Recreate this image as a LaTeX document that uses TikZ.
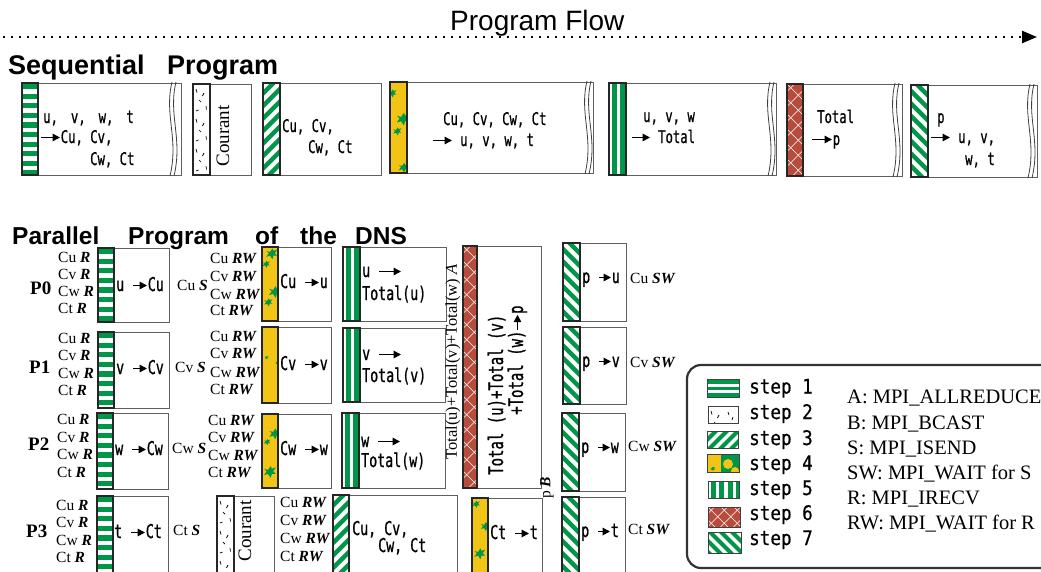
\documentclass[tikz,border=0pt]{standalone}
\usepackage{fontspec}
\setmainfont{Liberation Serif}
\setsansfont{Liberation Sans}
\newfontfamily\gfont[FakeStretch=0.70,FakeBold=0.8]{DejaVu Sans Mono}
\newfontfamily\lfont[FakeStretch=0.88,FakeBold=0.6]{DejaVu Sans Mono}
\usetikzlibrary{arrows.meta}
\definecolor{sgreen}{RGB}{0,150,72}
\definecolor{syellow}{RGB}{241,196,22}
\definecolor{sred}{RGB}{184,76,60}
\definecolor{frame}{RGB}{95,95,95}
\tikzset{
 boxf/.style={draw=frame,line width=1pt},
 stripb/.style={draw=black!85,line width=1.4pt},
 swb/.style={draw=black!75,line width=1pt},
 seqt/.style={font=\gfont\fontsize{17.5}{19}\selectfont,inner sep=0pt,anchor=base west},
 part/.style={font=\gfont\fontsize{19}{21}\selectfont,inner sep=0pt,anchor=base west},
 slab/.style={font=\fontsize{15.5}{17}\selectfont,inner sep=0pt,anchor=base west},
 plab/.style={font=\bfseries\fontsize{19}{21}\selectfont,inner sep=0pt,anchor=base west},
 ttl/.style={font=\sffamily\bfseries\fontsize{27}{29}\selectfont,inner sep=0pt,anchor=base west},
 ttlb/.style={font=\sffamily\bfseries\fontsize{24.5}{26}\selectfont,inner sep=0pt,anchor=base west},
 legt/.style={font=\lfont\fontsize{20}{22}\selectfont,inner sep=0pt,anchor=base west},
 legr/.style={font=\fontsize{20.5}{22}\selectfont,inner sep=0pt,anchor=base west},
 wavel/.style={draw=black!75,line width=0.8pt},
 flow/.style={line width=2.2pt,dash pattern=on 2.2pt off 5.8pt,-{Triangle[length=15pt,width=12pt]}}
}
\newcommand\bi[1]{\textbf{\textit{#1}}}
\newcommand\arr[1]{\tikz[baseline=-5.5pt]\draw[line width=1.6pt,-{Triangle[length=7.5pt,width=7.5pt]}] (0pt,0pt)--(#1pt,0pt);}
% step 1: horizontal stripes
\newcommand\sone[6]{%
 \begin{scope}\clip (#1,#2) rectangle (#3,#4);
 \fill[white] (#1,#2) rectangle (#3,#4);
 \foreach \k in {0,...,40}{\fill[sgreen] (#1,{#2+1+\k*#5}) rectangle (#3,{#2+1+(\k+0.55)*#5});}
 \end{scope}\draw[#6] (#1,#2) rectangle (#3,#4);}
% step 2: dashes
\newcommand\stwo[5]{%
 \begin{scope}\clip (#1,#2) rectangle (#3,#4);
 \fill[white] (#1,#2) rectangle (#3,#4);
 \foreach \k in {0,...,4}{
  \draw[black,line width=0.7pt] ({#1+3},{#2+5+\k*30}) -- ++(1,3.5);
  \draw[black,line width=0.7pt] ({#1+11},{#2+9+\k*30}) -- ++(-1.5,3);
  \draw[black,line width=0.7pt] ({#1+6},{#2+16+\k*30}) -- ++(2,2);
  \draw[black,line width=0.7pt] ({#1+13},{#2+22+\k*30}) -- ++(0.5,3.5);
  \draw[black,line width=0.7pt] ({#1+3},{#2+27+\k*30}) -- ++(2.5,-1);
  \draw[black,line width=0.7pt] ({#1+20},{#2+6+\k*30}) -- ++(1,3);
  \draw[black,line width=0.7pt] ({#1+25},{#2+11+\k*30}) -- ++(-1,3);}
 \end{scope}\draw[#5] (#1,#2) rectangle (#3,#4);}
% step 3: "/" stripes
\newcommand\sthree[7]{%
 \begin{scope}\clip (#1,#2) rectangle (#3,#4);
 \fill[white] (#1,#2) rectangle (#3,#4);
 \foreach \k in {0,...,45}{\draw[sgreen,line width=#6pt] ({#1-2},{#2+\k*#5}) -- ++({#3-#1+4},{-(#3-#1+4)});}
 \end{scope}\draw[#7] (#1,#2) rectangle (#3,#4);}
% step 7: "\" stripes
\newcommand\sseven[7]{%
 \begin{scope}\clip (#1,#2) rectangle (#3,#4);
 \fill[white] (#1,#2) rectangle (#3,#4);
 \foreach \k in {0,...,45}{\draw[sgreen,line width=#6pt] ({#1-2},{#2+\k*#5-(#3-#1)-4}) -- ++({#3-#1+4},{#3-#1+4});}
 \end{scope}\draw[#7] (#1,#2) rectangle (#3,#4);}
% step 5: vertical stripes
\newcommand\sfive[6]{%
 \begin{scope}\clip (#1,#2) rectangle (#3,#4);
 \fill[white] (#1,#2) rectangle (#3,#4);
 \foreach \k in {0,...,5}{\fill[sgreen] ({#1+2.8+\k*#5},#2) rectangle ({#1+2.8+(\k+0.56)*#5},#4);}
 \end{scope}\draw[#6] (#1,#2) rectangle (#3,#4);}
% step 6: red with white lattice
\newcommand\ssix[6]{%
 \begin{scope}\clip (#1,#2) rectangle (#3,#4);
 \fill[sred] (#1,#2) rectangle (#3,#4);
 \foreach \k in {-4,...,30}{\draw[white,line width=0.55pt] (#1,{#2+\k*#5}) -- ++(40,40);
   \draw[white,line width=0.55pt] (#1,{#2+\k*#5+#5/2}) -- ++(40,-40);}
 \end{scope}\draw[#6] (#1,#2) rectangle (#3,#4);}
% step 4: yellow with leaves
\newcommand\sfour[6]{%
 \begin{scope}\clip (#1,#2) rectangle (#3,#4);
 \fill[syellow] (#1,#2) rectangle (#3,#4);
 #5
 \end{scope}\draw[#6] (#1,#2) rectangle (#3,#4);}
\newcommand\leaf[3]{\fill[sgreen,shift={(#1,#2)},scale=#3] (0,0) -- (2,-3) -- (3,-1) -- (6,-2) -- (4,1) -- (6,3) -- (3,3) -- (2,6) -- (0,3) -- (-3,4) -- (-1,1) -- (-3,-1) -- cycle;}
% wavy break
\newcommand\wave[3]{%
 \draw[wavel] ({#1+2},{#2-1}) .. controls ({#1-6},{#2+0.35*(#3-#2)}) and ({#1+9},{#2+0.6*(#3-#2)}) .. (#1,{#3+1});
 \draw[wavel] ({#1+6},{#2-1}) .. controls ({#1-2},{#2+0.35*(#3-#2)}) and ({#1+13},{#2+0.6*(#3-#2)}) .. ({#1+4},{#3+1});}
% label stacks
\newcommand\lstack[7]{%
 \node[slab] (#7a) at (#1,#3) {Cu \bi{#2}};
 \node[slab] (#7b) at (#1,#4) {Cv \bi{#2}};
 \node[slab] (#7c) at (#1,#5) {Cw \bi{#2}};
 \node[slab] (#7d) at (#1,#6) {Ct \bi{#2}};}

\begin{document}
\begin{tikzpicture}[x=1pt,y=-1pt]
\useasboundingbox (0,0) rectangle (1041,571);
\clip (0,0) rectangle (1041,571);
\fill[white] (0,0) rectangle (1041,571);

% program flow
\node[font=\sffamily\fontsize{28}{30}\selectfont,inner sep=0pt,anchor=base west] (pf) at (450,30) {Program Flow};
\coordinate (flowA) at (3,37);
\coordinate (flowB) at (1037,37);
\draw[flow] (flowA) -- (flowB);

% titles
\node[ttl] (t1) at (8,74) {Sequential};
\node[ttl] (t2) at (167,74) {Program};

% ---------- sequential boxes ----------
\draw[boxf] (22,83) rectangle (181,175);
\sone{22}{83}{38}{175}{9.6}{stripb}
\wave{170}{83}{175}
\node[seqt] (q1a) at (43,123) {u,\hspace{13pt}v,\hspace{13pt}w,\hspace{13pt}t};
\node[seqt] (q1b) at (40,143) {\arr{19}Cu, Cv,};
\node[seqt] (q1c) at (90,165) {Cw, Ct};

\draw[boxf] (193,84) rectangle (251,175);
\stwo{193}{84}{210}{175}{stripb}
\node[font=\fontsize{19}{20}\selectfont,rotate=90,inner sep=0pt] (cour1) at (223,136) {Courant};

\draw[boxf] (263,83) rectangle (381,175);
\sthree{263}{83}{280}{175}{12.5}{4.4}{stripb}
\node[seqt] (q3a) at (282,132) {Cu, Cv,};
\node[seqt] (q3b) at (308,153) {Cw, Ct};

\draw[boxf] (390,82) rectangle (593,173);
\sfour{390}{82}{407}{173}{\leaf{391}{92}{0.9}\leaf{401}{117}{1.4}\leaf{396}{130}{0.9}\leaf{402}{166}{1.1}}{stripb}
\wave{585}{82}{173}
\node[seqt] (q4a) at (443,125) {Cu, Cv, Cw, Ct};
\node[seqt] (q4b) at (432,146) {\arr{19} u, v, w, t};

\draw[boxf] (609,83) rectangle (776,175);
\sfive{609}{83}{626}{175}{8.5}{stripb}
\wave{768}{83}{175}
\node[seqt] (q5a) at (643,122) {u, v, w};
\node[seqt] (q5b) at (631,143) {\arr{18} Total};

\draw[boxf] (787,84) rectangle (902,176);
\ssix{787}{84}{803}{176}{15}{stripb}
\wave{893}{84}{176}
\node[seqt] (q6a) at (817,123) {Total};
\node[seqt] (q6b) at (811,145) {\arr{20}p};

\draw[boxf] (911,85) rectangle (1037,177);
\sseven{911}{85}{928}{177}{12.5}{4.4}{stripb}
\wave{1028}{85}{177}
\node[seqt] (q7a) at (937,123) {p};
\node[seqt] (q7b) at (930,143) {\arr{19} u, v,};
\node[seqt] (q7c) at (965,165) {w, t};

% ---------- parallel ----------
\node[ttlb] (u1) at (12,244) {Parallel};
\node[ttlb] (u2) at (128,244) {Program};
\node[ttlb] (u3) at (255,244) {of};
\node[ttlb] (u4) at (300,244) {the};
\node[ttlb] (u5) at (355,244) {DNS};

\node[plab] (p0) at (30,294) {P0};
\node[plab] (p1) at (29,373) {P1};
\node[plab] (p2) at (28,450) {P2};
\node[plab] (p3) at (26,537) {P3};

% step1 column
\draw[boxf] (98,248) rectangle (169,322);
\sone{98}{248}{114}{322}{9.6}{stripb}
\node[part] (a0) at (116,291) {u \arr{14}Cu};
\draw[boxf] (98,332) rectangle (169,408);
\sone{98}{332}{114}{408}{9.6}{stripb}
\node[part] (a1) at (116,374) {v \arr{14}Cv};
\draw[boxf] (97,413) rectangle (168,489);
\sone{97}{413}{113}{489}{9.6}{stripb}
\node[part] (a2) at (115,455) {w \arr{14}Cw};
\draw[boxf] (97,496) rectangle (168,590);
\sone{97}{496}{113}{590}{9.6}{stripb}
\node[part] (a3) at (114,538) {t \arr{14}Ct};

\lstack{58}{R}{262}{279}{296}{313}{r0}
\lstack{58}{R}{343}{360.5}{378}{395}{r1}
\lstack{57}{R}{424}{442}{459}{477}{r2}
\lstack{56}{R}{510}{527}{545}{562}{r3}

\node[slab] (s0) at (177,290) {Cu \bi{S}};
\node[slab] (s1) at (175,372) {Cv \bi{S}};
\node[slab] (s2) at (172,453) {Cw \bi{S}};
\node[slab] (s3) at (173,535) {Ct \bi{S}};

% step4 column
\draw[boxf] (262,247) rectangle (331,321);
\sfour{262}{247}{278}{321}{\leaf{270}{252}{1.2}\leaf{265}{263}{0.8}\leaf{273}{290}{1.3}\leaf{267}{301}{0.9}}{stripb}
\node[part] (b0) at (280,288) {Cu \arr{14}u};
\draw[boxf] (262,327) rectangle (331,403);
\sfour{262}{327}{278}{403}{\leaf{266}{357}{0.4}\leaf{277}{362}{0.5}}{stripb}
\node[part] (b1) at (280,370) {Cv \arr{14}v};
\draw[boxf] (262,414) rectangle (331,488);
\sfour{262}{414}{278}{488}{\leaf{273}{432}{1.2}\leaf{266}{441}{0.7}\leaf{268}{470}{1.3}}{stripb}
\node[part] (b2) at (280,455) {Cw \arr{14}w};

\lstack{210}{RW}{263}{281}{299}{315}{w0}
\lstack{210}{RW}{341}{358}{377}{394}{w1}
\lstack{208}{RW}{425}{442}{460}{477}{w2}
\lstack{280}{RW}{507}{525}{543}{561}{w3}

% P3 Courant and step3
\draw[boxf] (217,496) rectangle (274,590);
\stwo{217}{496}{234}{590}{stripb}
\node[font=\fontsize{19}{20}\selectfont,rotate=90,inner sep=0pt] (cour2) at (245,531) {Courant};
\draw[boxf] (333,495) rectangle (457,590);
\sthree{333}{495}{349}{590}{12.5}{4.4}{stripb}
\node[part] (c3a) at (352,535) {Cu, Cv,};
\node[part] (c3b) at (378,552) {Cw, Ct};

% step5 column
\draw[boxf] (343,247) rectangle (446,321);
\sfive{343}{247}{360}{321}{8.5}{stripb}
\node[part] (d0a) at (362,277) {u \arr{22}};
\node[part] (d0b) at (362,300) {Total(u)};
\draw[boxf] (343,328) rectangle (445,402);
\sfive{343}{328}{360}{402}{8.5}{stripb}
\node[part] (d1a) at (362,360) {v \arr{22}};
\node[part] (d1b) at (362,382) {Total(v)};
\draw[boxf] (342,413) rectangle (445,488);
\sfive{342}{413}{359}{488}{8.5}{stripb}
\node[part] (d2a) at (361,447) {w \arr{22}};
\node[part] (d2b) at (361,467) {Total(w)};

\node[font=\fontsize{16.5}{18}\selectfont,rotate=90,inner sep=0pt] (tsum) at (453,362) {Total(u)+Total(v)+Total(w) \textit{A}};

% step6 tall
\draw[boxf] (463,246) rectangle (541,488);
\ssix{463}{246}{477}{488}{15}{stripb}
\node[font=\gfont\fontsize{20}{22}\selectfont,inner sep=0pt,rotate=90,anchor=base west] (e1) at (503,475) {Total (u)+Total (v)};
\node[font=\gfont\fontsize{20}{22}\selectfont,inner sep=0pt,rotate=90,anchor=base west] (e2) at (523,415) {+Total (w)\arr{15}p};

\node[font=\fontsize{15.5}{17}\selectfont,rotate=90,inner sep=0pt] (pb) at (547,488) {p \bi{B}};

% step4 P3
\draw[boxf] (472,498) rectangle (542,590);
\sfour{472}{498}{488}{590}{\leaf{475}{503}{0.8}\leaf{484}{525}{1}\leaf{478}{552}{1.2}}{stripb}
\node[part] (f3) at (490,539) {Ct \arr{14}t};

% step7 column
\draw[boxf] (563,243) rectangle (626,321);
\sseven{563}{243}{580}{321}{12.5}{4.4}{stripb}
\node[part] (g0) at (582,283) {p \arr{12}u};
\draw[boxf] (563,327) rectangle (626,404);
\sseven{563}{327}{580}{404}{12.5}{4.4}{stripb}
\node[part] (g1) at (582,367) {p \arr{12}v};
\draw[boxf] (562,413) rectangle (625,491);
\sseven{562}{413}{579}{491}{12.5}{4.4}{stripb}
\node[part] (g2) at (581,453) {p \arr{12}w};
\draw[boxf] (562,497) rectangle (625,590);
\sseven{562}{497}{579}{590}{12.5}{4.4}{stripb}
\node[part] (g3) at (581,537) {p \arr{12}t};

\node[slab] (h0) at (630,283) {Cu \bi{SW}};
\node[slab] (h1) at (630,367) {Cv \bi{SW}};
\node[slab] (h2) at (628,451) {Cw \bi{SW}};
\node[slab] (h3) at (628,534) {Ct \bi{SW}};

% ---------- legend ----------
\draw[draw=black!80,line width=2.2pt,rounded corners=14pt] (687,365) rectangle (1075,568);
\sone{707}{379}{739}{397}{6.5}{swb}
\stwo{708}{406}{738}{423}{swb}
\sthree{707}{431}{738}{448}{11}{4}{swb}
\sfour{707}{454}{739}{472}{\fill[sgreen] (721,454) rectangle (739,472);\fill[syellow] (728,464) circle (5);\fill[syellow] (735,471) circle (4);\leaf{712}{468}{0.5}}{swb}
\sfive{708}{481}{739}{498}{8.5}{swb}
\ssix{708}{507}{740}{527}{13}{swb}
\sseven{708}{532}{741}{553}{11}{4}{swb}
\node[legt] (l1) at (749,393.5) {step 1};
\node[legt] (l2) at (749,419) {step 2};
\node[legt] (l3) at (749,445) {step 3};
\node[legt] (l4) at (749,470) {step 4};
\node[legt] (l5) at (749,495) {step 5};
\node[legt] (l6) at (749,520) {step 6};
\node[legt] (l7) at (749,545) {step 7};
\node[legr] (m1) at (847,403) {A: MPI\_ALLREDUCE};
\node[legr] (m2) at (847,429) {B: MPI\_BCAST};
\node[legr] (m3) at (847,454) {S: MPI\_ISEND};
\node[legr] (m4) at (847,479) {SW: MPI\_WAIT for S};
\node[legr] (m5) at (847,504) {R: MPI\_IRECV};
\node[legr] (m6) at (847,529) {RW: MPI\_WAIT for R};
\end{tikzpicture}
\end{document}
